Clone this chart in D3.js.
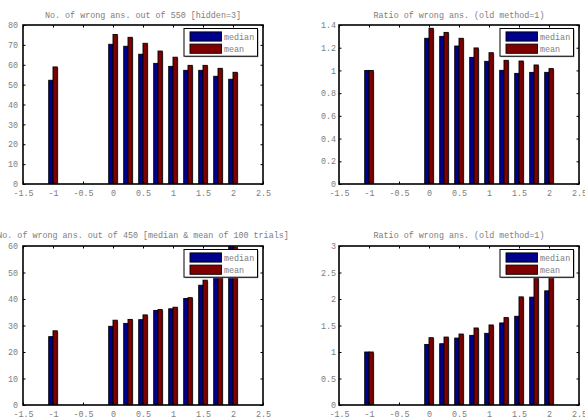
<!DOCTYPE html>
<html>
<head>
<meta charset="utf-8">
<script src="https://cdn.jsdelivr.net/npm/d3@7"></script>
<style>
  body { margin: 0; background: #fff; }
  svg { display: block; }
  text { font-family: "Liberation Mono", "DejaVu Sans Mono", monospace; font-size: 8.4px; fill: #7d7d7d; }
</style>
</head>
<body>
<div id="chart"></div>
<script>
// x positions of the bar groups
const xVals = [-1, 0, 0.25, 0.5, 0.75, 1, 1.25, 1.5, 1.75, 2]
const xTicks = [-1.5, -1, -0.5, 0, 0.5, 1, 1.5, 2, 2.5]
const seriesNames = ['median', 'mean']

// 550 questions, hidden=3
const wrong550Median = [52.2, 70.3, 69.3, 65.3, 60.7, 59.2, 57.2, 57.2, 54.2, 52.7]
const wrong550Mean = [58.9, 75.2, 73.8, 70.8, 66.9, 63.8, 59.7, 59.7, 58.2, 56.2]
const ratio550Median = [1, 1.283, 1.300, 1.215, 1.115, 1.080, 1.001, 0.974, 0.983, 0.983]
const ratio550Mean = [1, 1.371, 1.335, 1.283, 1.198, 1.156, 1.089, 1.083, 1.048, 1.016]

// 450 questions, 100 trials
const wrong450Median = [25.8, 29.7, 30.8, 32.2, 35.7, 36.3, 40.2, 45.2, 52.5, 61.5]
const wrong450Mean = [28.0, 32.0, 32.3, 34.0, 36.0, 36.9, 40.5, 47.1, 57.0, 59.6]
const ratio450Median = [1, 1.143, 1.156, 1.263, 1.314, 1.352, 1.548, 1.674, 2.035, 2.154]
const ratio450Mean = [1, 1.270, 1.282, 1.339, 1.453, 1.510, 1.649, 2.040, 2.394, 2.620]

const yTicks80 = [0, 10, 20, 30, 40, 50, 60, 70, 80]
const yTicks14 = [0, 0.2, 0.4, 0.6, 0.8, 1, 1.2, 1.4]
const yTicks60 = [0, 10, 20, 30, 40, 50, 60]
const yTicks3 = [0, 0.5, 1, 1.5, 2, 2.5, 3]

const colors = ['#00008f', '#800000']
const W = 585, H = 418

const panels = [
    { left: 23, top: 25, yMax: 80, yTicks: yTicks80, labelGap: 5, titleY: 18.4, xLabelY: 6.5,
      title: 'No. of wrong ans. out of 550 [hidden=3]', data: [wrong550Median, wrong550Mean] },
    { left: 339, top: 25, yMax: 1.4, yTicks: yTicks14, labelGap: 3, titleY: 18.4, xLabelY: 6.5,
      title: 'Ratio of wrong ans. (old method=1)', data: [ratio550Median, ratio550Mean] },
    { left: 23, top: 246, yMax: 60, yTicks: yTicks60, labelGap: 5, titleY: 238.4, xLabelY: 5.6,
      title: 'No. of wrong ans. out of 450 [median & mean of 100 trials]', data: [wrong450Median, wrong450Mean] },
    { left: 339, top: 246, yMax: 3, yTicks: yTicks3, labelGap: 3, titleY: 238.4, xLabelY: 5.6,
      title: 'Ratio of wrong ans. (old method=1)', data: [ratio450Median, ratio450Mean] }
]
const pw = 240, ph = 159

const svg = d3.select('#chart').append('svg')
    .attr('width', W)
    .attr('height', H)

const fmt = d => String(d)

panels.forEach((p, pi) => {
    const g = svg.append('g').attr('transform', `translate(${p.left}, ${p.top})`)

    let xScale = d3.scaleLinear().domain([-1.5, 2.5]).range([0, pw])
    let yScale = d3.scaleLinear().domain([0, p.yMax]).range([ph, 0])

    // grouped bars, MATLAB style: group width = 2/3.5 of spacing 0.25
    const barW = 0.25 * (2 / 3.5) / 2

    g.append('clipPath').attr('id', 'clip' + pi)
        .append('rect').attr('width', pw).attr('height', ph)

    const bars = g.append('g').attr('clip-path', `url(#clip${pi})`)
    p.data.forEach((vals, si) => {
        const x0 = v => xScale(v + (si - 1) * barW)
        const x1 = v => xScale(v + si * barW)
        // soft shadow on the right edge
        bars.selectAll('.sh' + si)
            .data(vals)
            .enter()
            .append('rect')
            .attr('x', (d, i) => x0(xVals[i]) + 1)
            .attr('y', d => yScale(d) + 1)
            .attr('width', (d, i) => x1(xVals[i]) - x0(xVals[i]))
            .attr('height', d => ph - yScale(d))
            .attr('fill', '#9a9a9a')
        bars.selectAll('.bar' + si)
            .data(vals)
            .enter()
            .append('rect')
            .attr('x', (d, i) => x0(xVals[i]))
            .attr('y', d => yScale(d))
            .attr('width', (d, i) => x1(xVals[i]) - x0(xVals[i]))
            .attr('height', d => ph - yScale(d))
            .attr('fill', colors[si])
            .attr('stroke', '#000')
            .attr('stroke-width', 0.9)
    })

    // axes with inward ticks on all four sides
    let xAxis = d3.axisBottom(xScale).tickValues(xTicks).tickSizeInner(-2.5).tickSizeOuter(0).tickPadding(5).tickFormat(fmt)
    let xTop = d3.axisTop(xScale).tickValues(xTicks).tickSizeInner(-2.5).tickSizeOuter(0).tickFormat('')
    let yAxis = d3.axisLeft(yScale).tickValues(p.yTicks).tickSizeInner(-2.5).tickSizeOuter(0).tickPadding(p.labelGap).tickFormat(fmt)
    let yRight = d3.axisRight(yScale).tickValues(p.yTicks).tickSizeInner(-2.5).tickSizeOuter(0).tickFormat('')

    const ax = [
        g.append('g').attr('transform', `translate(0, ${ph})`).call(xAxis),
        g.append('g').call(xTop),
        g.append('g').call(yAxis),
        g.append('g').attr('transform', `translate(${pw}, 0)`).call(yRight)
    ]
    ax.forEach(a => {
        a.select('.domain').remove()
        a.selectAll('line').attr('stroke', '#000').attr('stroke-width', 1)
        a.selectAll('text').attr('font-size', null).attr('font-family', null).attr('fill', null)
    })
    ax[0].selectAll('text').attr('dy', '0.71em').attr('y', p.xLabelY)

    // box
    g.append('rect')
        .attr('width', pw).attr('height', ph)
        .attr('fill', 'none').attr('stroke', '#000').attr('stroke-width', 1.6)

    // title
    svg.append('text')
        .attr('x', p.left + pw / 2)
        .attr('y', p.titleY)
        .attr('text-anchor', 'middle')
        .text(p.title)

    // legend
    const lw = 73.5, lh = 27.7
    const lg = g.append('g').attr('transform', `translate(${pw - 5.5 - lw}, 3.5)`)
    lg.append('rect').attr('x', 1).attr('y', 1).attr('width', lw).attr('height', lh).attr('fill', '#999')
    lg.append('rect').attr('width', lw).attr('height', lh).attr('fill', '#fff').attr('stroke', '#000').attr('stroke-width', 1)
    seriesNames.forEach((name, si) => {
        lg.append('rect')
            .attr('x', 6).attr('y', 3.4 + si * 12.2)
            .attr('width', 31.5).attr('height', 9.2)
            .attr('fill', colors[si]).attr('stroke', '#000').attr('stroke-width', 0.9)
        lg.append('text')
            .attr('x', 40).attr('y', 11 + si * 12.3)
            .text(name)
    })
})
</script>
</body>
</html>
